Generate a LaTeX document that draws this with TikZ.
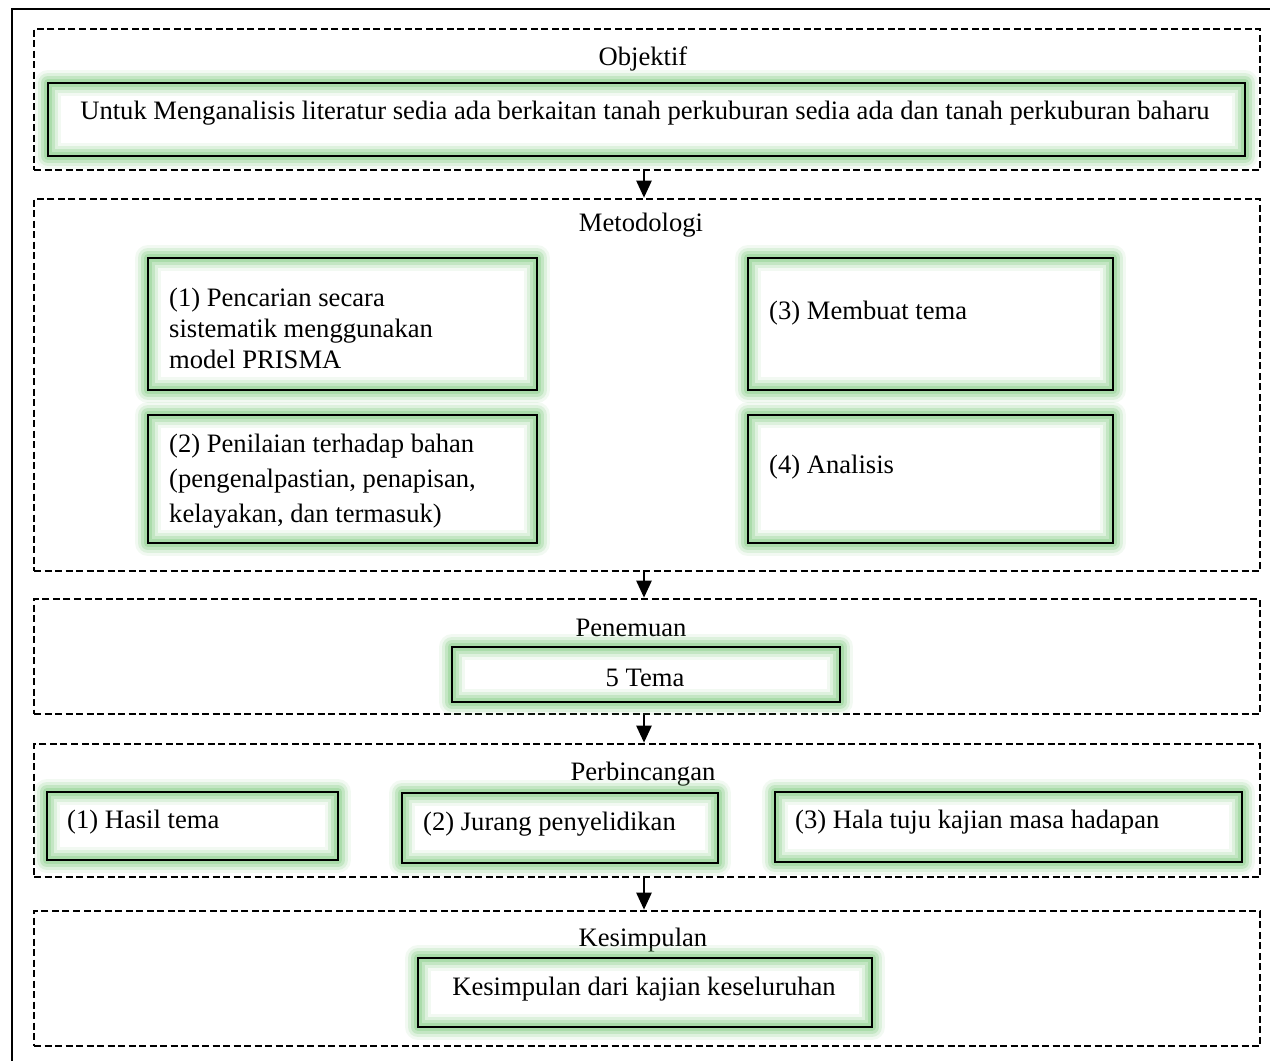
\documentclass[tikz,border=0pt]{standalone}
\usepackage{fontspec}
\setmainfont{Liberation Serif}
\usetikzlibrary{arrows.meta}
\definecolor{glowc}{RGB}{130,205,130}
\begin{document}
\begin{tikzpicture}[x=1pt,y=-1pt,
 txt/.style={inner sep=0pt, font=\fontsize{26.6}{31}\selectfont},
 dbox/.style={draw, line width=2.6pt, dash pattern=on 7pt off 3.5pt, inner sep=0pt},
 gbox/.style={draw=black, line width=2.8pt, inner sep=0pt,
   preaction={fill=white},
   preaction={draw=glowc, line join=round, line width=26pt, draw opacity=0.10},
   preaction={draw=glowc, line join=round, line width=20pt, draw opacity=0.18},
   preaction={draw=glowc, line join=round, line width=14pt, draw opacity=0.28},
   preaction={draw=glowc, line join=round, line width=8pt, draw opacity=0.38}},
 arr/.style={line width=2.4pt, -{Triangle[length=17pt,width=15pt]}}
]
\useasboundingbox (0,0) rectangle (1270,1061);
\clip (0,0) rectangle (1270,1061);
\fill[white] (0,0) rectangle (1270,1061);
\draw[line width=2pt] (12,9) rectangle (1300,1100);

% dashed section boxes
\node[dbox, minimum width=1226, minimum height=141] (objbox) at (647,99.5) {};
\node[dbox, minimum width=1226, minimum height=372] (metbox) at (647,385) {};
\node[dbox, minimum width=1226, minimum height=115] (penbox) at (647,656.5) {};
\node[dbox, minimum width=1226, minimum height=133] (perbox) at (647,810.5) {};
\node[dbox, minimum width=1226, minimum height=135] (kesbox) at (647,978.5) {};

% titles
\node[txt] (objt) at (643,59) {Objektif};
\node[txt] (mett) at (641,225) {Metodologi};
\node[txt] (pent) at (631,628) {Penemuan};
\node[txt] (pert) at (643,774) {Perbincangan};
\node[txt] (kest) at (643,940) {Kesimpulan};

% glowing boxes
\node[gbox, minimum width=1197, minimum height=73] (obj) at (646.5,119.5) {};
\node[gbox, minimum width=389, minimum height=132] (b1) at (342.5,324) {};
\node[gbox, minimum width=389, minimum height=128] (b2) at (342.5,479) {};
\node[gbox, minimum width=365, minimum height=132] (b3) at (930.5,324) {};
\node[gbox, minimum width=365, minimum height=128] (b4) at (930.5,479) {};
\node[gbox, minimum width=388, minimum height=55] (tema) at (646,674.5) {};
\node[gbox, minimum width=291, minimum height=68] (p1) at (192.5,826) {};
\node[gbox, minimum width=316, minimum height=70] (p2) at (560,828) {};
\node[gbox, minimum width=467, minimum height=70] (p3) at (1008.5,827) {};
\node[gbox, minimum width=454, minimum height=69] (kes) at (645,992.5) {};

% texts
\node[txt] (objx) at (645,113) {Untuk Menganalisis literatur sedia ada berkaitan tanah perkuburan sedia ada dan tanah perkuburan baharu};
\node[txt, anchor=west, align=left] (b1x) at (169,328) {(1) Pencarian secara\\sistematik menggunakan\\model PRISMA};
\node[txt, anchor=west, align=left, font=\fontsize{26.6}{35}\selectfont] (b2x) at (169,481) {(2) Penilaian terhadap bahan\\(pengenalpastian, penapisan,\\kelayakan, dan termasuk)};
\node[txt, anchor=west] (b3x) at (769,313) {(3) Membuat tema};
\node[txt, anchor=west] (b4x) at (769,467) {(4) Analisis};
\node[txt] (temax) at (645,678) {5 Tema};
\node[txt, anchor=west] (p1x) at (67,822) {(1) Hasil tema};
\node[txt, anchor=west] (p2x) at (423,824) {(2) Jurang penyelidikan};
\node[txt, anchor=west] (p3x) at (795,822) {(3) Hala tuju kajian masa hadapan};
\node[txt] (kesx) at (644,989) {Kesimpulan dari kajian keseluruhan};

% arrows
\draw[arr] ([xshift=-3pt]objbox.south) -- ([xshift=-3pt]metbox.north);
\draw[arr] ([xshift=-3pt]metbox.south) -- ([xshift=-3pt]penbox.north);
\draw[arr] ([xshift=-3pt]penbox.south) -- ([xshift=-3pt]perbox.north);
\draw[arr] ([xshift=-3pt]perbox.south) -- ([xshift=-3pt]kesbox.north);
\end{tikzpicture}
\end{document}
